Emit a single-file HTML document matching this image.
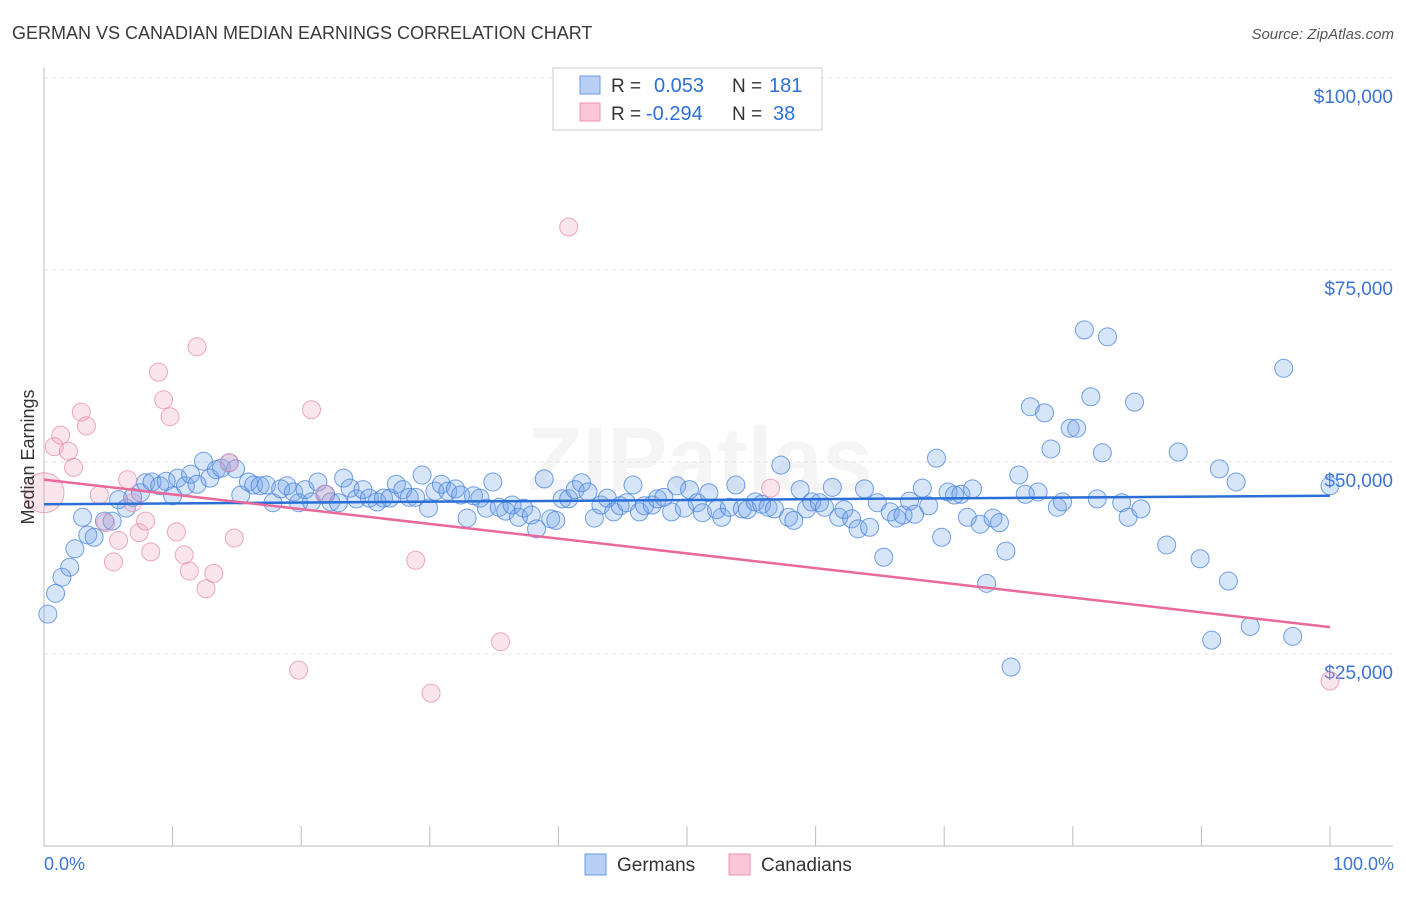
<!DOCTYPE html>
<html><head><meta charset="utf-8"><style>
body{margin:0;background:#fff;font-family:"Liberation Sans",sans-serif;}
svg text{font-family:"Liberation Sans",sans-serif;}
</style></head><body>
<svg id="chart" width="1406" height="892" xmlns="http://www.w3.org/2000/svg">
<text x="12" y="39" font-size="18" fill="#3a3a3a">GERMAN VS CANADIAN MEDIAN EARNINGS CORRELATION CHART</text>
<text x="1394" y="39" font-size="15" fill="#555" font-style="italic" text-anchor="end">Source: ZipAtlas.com</text>
<text x="700" y="490" font-size="90" fill="#000" fill-opacity="0.04" text-anchor="middle" font-weight="bold">ZIPatlas</text>
<g id="grid"></g><g id="axes"></g><g id="pts"></g><g id="lines"></g>
<text transform="translate(34,457) rotate(-90)" font-size="18" fill="#333" text-anchor="middle">Median Earnings</text>
<text x="44" y="870" font-size="18" fill="#3a74d6">0.0%</text>
<text x="1394" y="870" font-size="18" fill="#3a74d6" text-anchor="end">100.0%</text>
<g>
<rect x="553" y="68" width="269" height="62" fill="#fff" stroke="#ccc"/>
<rect x="580" y="76" width="20" height="18" fill="#b8d0f5" stroke="#6b9be0"/>
<rect x="580" y="103" width="20" height="18" fill="#f9c7d7" stroke="#eb93b2"/>
<text x="611" y="92" font-size="19" fill="#333">R =</text>
<text x="654" y="92" font-size="20" fill="#2e6fd6">0.053</text>
<text x="732" y="92" font-size="19" fill="#333">N =</text>
<text x="769" y="92" font-size="20" fill="#2e6fd6">181</text>
<text x="611" y="120" font-size="19" fill="#333">R =</text>
<text x="646" y="120" font-size="20" fill="#2e6fd6">-0.294</text>
<text x="732" y="120" font-size="19" fill="#333">N =</text>
<text x="773" y="120" font-size="20" fill="#2e6fd6">38</text>
</g>
<g><rect x="585" y="854" width="21" height="21" fill="#b8d0f5" stroke="#6b9be0"/><text x="617" y="871" font-size="19" fill="#333">Germans</text></g>
<g><rect x="729" y="854" width="21" height="21" fill="#f9c7d7" stroke="#eb93b2"/><text x="761" y="871" font-size="19" fill="#333">Canadians</text></g>
</svg>
<script>
const yTicks=[25000,50000,75000,100000];
const yTickLabels=["$25,000","$50,000","$75,000","$100,000"];
const germansX=[0.3,0.9,1.4,2.0,2.4,3.0,3.4,3.9,4.7,5.3,5.8,6.4,6.9,7.5,7.9,8.4,9.0,9.5,10.0,10.4,11.0,11.4,11.9,12.4,12.9,13.4,13.8,14.4,14.9,15.3,15.9,16.3,16.8,17.3,17.8,18.4,18.9,19.4,19.8,20.3,20.8,21.3,21.9,22.3,22.9,23.3,23.8,24.3,24.8,25.3,25.9,26.4,26.9,27.4,27.9,28.4,28.9,29.4,29.9,30.4,30.9,31.4,32.0,32.4,32.9,33.4,33.9,34.4,34.9,35.4,35.9,36.4,36.9,37.3,37.9,38.3,38.9,39.4,39.8,40.3,40.8,41.3,41.8,42.3,42.8,43.3,43.8,44.3,44.8,45.3,45.8,46.3,46.7,47.3,47.7,48.2,48.8,49.2,49.8,50.2,50.8,51.2,51.7,52.3,52.7,53.3,53.8,54.3,54.7,55.3,55.8,56.3,56.8,57.3,57.9,58.3,58.8,59.3,59.7,60.3,60.7,61.3,61.8,62.2,62.8,63.3,63.8,64.2,64.8,65.3,65.8,66.3,66.8,67.3,67.7,68.3,68.8,69.4,69.8,70.3,70.8,71.3,71.8,72.2,72.8,73.3,73.8,74.3,74.8,75.2,75.8,76.3,76.7,77.3,77.8,78.3,78.8,79.2,79.8,80.3,80.9,81.4,81.9,82.3,82.7,83.8,84.3,84.8,85.3,87.3,88.2,89.9,90.8,91.4,92.1,92.7,93.8,96.4,97.1,100];
const germansY=[30.2,32.9,35.0,36.3,38.7,42.8,40.5,40.2,42.3,42.3,45.1,44.0,45.4,46.0,47.3,47.4,46.9,47.5,45.6,47.9,46.9,48.4,47.1,50.1,47.9,49.0,49.2,49.9,49.1,45.7,47.4,47.0,46.9,47.0,44.7,46.5,46.9,46.1,44.7,46.4,44.8,47.4,45.8,44.8,44.7,47.9,46.6,45.2,46.4,45.3,44.8,45.3,45.3,47.1,46.4,45.4,45.4,48.3,44.0,46.2,47.1,46.2,46.5,45.7,42.7,45.6,45.3,44.0,47.4,44.1,43.6,44.4,42.8,44.0,43.1,41.3,47.8,42.6,42.4,45.2,45.2,46.4,47.3,46.1,42.7,44.4,45.3,43.5,44.3,44.7,47.0,43.5,44.3,44.4,45.2,45.4,43.5,46.9,44.0,46.4,44.7,43.4,46.0,43.8,42.8,44.1,47.0,43.9,43.8,44.8,44.5,44.1,43.9,49.6,42.8,42.4,46.4,43.9,44.8,44.7,44.1,46.7,42.8,43.8,42.6,41.3,46.5,41.5,44.7,37.6,43.5,42.7,43.1,44.9,43.2,46.6,44.3,50.5,40.2,46.1,45.7,45.8,42.8,46.5,41.9,34.2,42.7,42.1,38.4,23.3,48.3,45.8,57.2,46.1,56.4,51.7,44.1,44.8,54.4,54.4,67.2,58.5,45.2,51.2,66.3,44.7,42.8,57.8,43.9,39.2,51.3,37.4,26.8,49.1,34.5,47.4,28.6,62.2,27.3,46.9];
const canadiansX=[0,0.8,1.3,1.9,2.3,2.9,3.3,4.3,4.8,5.4,5.8,6.5,6.9,7.4,7.9,8.3,8.9,9.3,9.8,10.3,10.9,11.3,11.9,12.6,13.2,14.4,14.8,19.8,20.8,21.8,28.9,30.1,35.5,40.8,56.5,100];
const canadiansY=[46.0,52.0,53.5,51.4,49.3,56.5,54.7,45.7,42.1,37.0,39.8,47.7,44.7,40.8,42.3,38.3,61.7,58.1,55.9,40.9,37.9,35.8,65.0,33.5,35.5,49.9,40.1,22.9,56.8,45.8,37.2,19.9,26.6,80.6,46.6,21.5];
const germansTrend=[44.5,45.6];
const canadiansTrend=[47.7,28.5];

const X0=44,X1=1330,Y0=846,PXK=7.68;
const sx=p=>X0+(X1-X0)*p/100;
const sy=v=>Y0-v*PXK;
const NS="http://www.w3.org/2000/svg";
function mk(t,a,parent){const e=document.createElementNS(NS,t);for(const k in a)e.setAttribute(k,a[k]);document.getElementById(parent).appendChild(e);return e;}

yTicks.forEach((v,i)=>{
  const y=sy(v/1000);
  const l=mk('line',{x1:X0,x2:1393,y1:y,y2:y,stroke:'#e2e2e2','stroke-dasharray':'4,4'},'grid');
  
  
  const t=mk('text',{x:1393,y:y+25,'font-size':19,fill:'#3a74d6','text-anchor':'end'},'grid');
  t.textContent=yTickLabels[i];
  
  
});
const ya=mk('line',{x1:X0,x2:X0,y1:68,y2:Y0,stroke:'#bbb'},'axes');


const xa=mk('line',{x1:X0,x2:1393,y1:Y0,y2:Y0,stroke:'#bbb'},'axes');


for(let i=1;i<=10;i++){
  const x=sx(i*10);
  const t=mk('line',{x1:x,x2:x,y1:826,y2:Y0,stroke:'#bbb'},'axes');
  
  
}
germansX.forEach((p,i)=>{
  const c=mk('circle',{cx:sx(p),cy:sy(germansY[i]),r:9,fill:'rgba(110,160,235,0.28)',stroke:'rgba(70,130,220,0.75)','stroke-width':1},'pts');
  
  
});
canadiansX.forEach((p,i)=>{
  const c=mk('circle',{cx:sx(p),cy:sy(canadiansY[i]),r:i===0?20:9,fill:'rgba(242,160,188,0.28)',stroke:'rgba(230,140,175,0.75)','stroke-width':1},'pts');
  
  
});
const gl=mk('line',{x1:sx(0),x2:sx(100),y1:sy(germansTrend[0]),y2:sy(germansTrend[1]),stroke:'#2b6fd6','stroke-width':2.5},'lines');


const cl=mk('line',{x1:sx(0),x2:sx(100),y1:sy(canadiansTrend[0]),y2:sy(canadiansTrend[1]),stroke:'#e8699a','stroke-width':2.5},'lines');


</script>
</body></html>
